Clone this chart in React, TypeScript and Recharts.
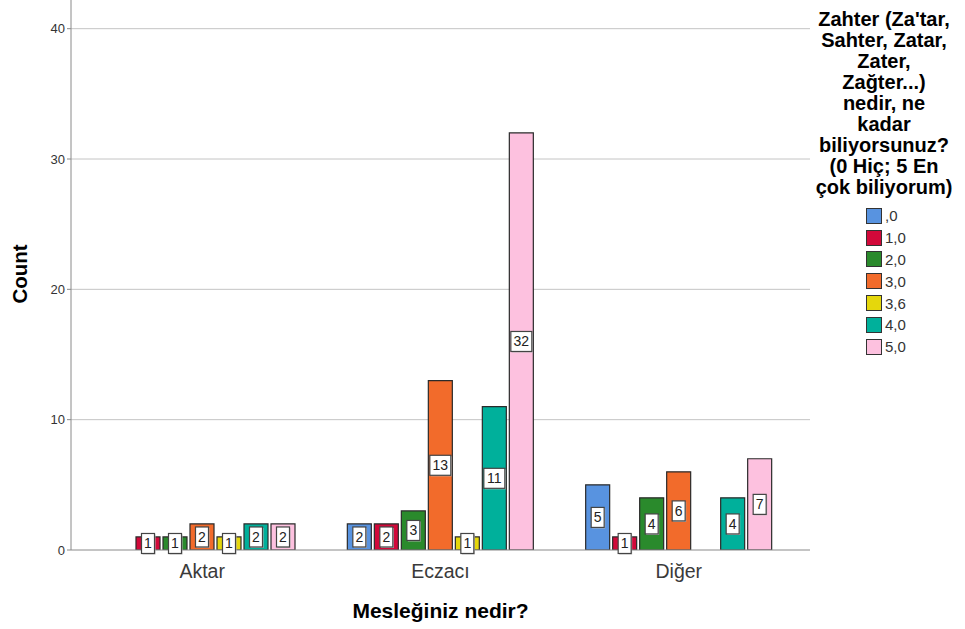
import { BarChart, Bar, XAxis, YAxis, CartesianGrid, LabelList } from 'recharts'

const categories = ['Aktar', 'Eczacı', 'Diğer']
const seriesNames = [',0', '1,0', '2,0', '3,0', '3,6', '4,0', '5,0']
const colors = ['#5893e0', '#d2093a', '#2a8a2c', '#f26b2b', '#e5d70c', '#00b09b', '#fdc1df']

// counts per category (Aktar, Eczacı, Diğer); null = no bar
const v0 = [null, 2, 5]
const v1 = [1, 2, 1]
const v2 = [1, 3, 4]
const v3 = [2, 13, 6]
const v36 = [1, 1, null]
const v4 = [2, 11, 4]
const v5 = [2, 32, 7]

const yTicks = [0, 10, 20, 30, 40]
const legendTitle = ['Zahter (Za\'tar,', 'Sahter, Zatar,', 'Zater,', 'Zağter...)', 'nedir, ne', 'kadar', 'biliyorsunuz?', '(0 Hiç; 5 En', 'çok biliyorum)']

const allSeries = [v0, v1, v2, v3, v36, v4, v5]
const data = categories.map((name, i) => {
    const row: Record<string, string | number | null> = { name }
    allSeries.forEach((s, k) => { row['s' + k] = s[i] })
    return row
})

const FONT = '"Liberation Sans", Arial, sans-serif'

const renderValueBox = (props: any) => {
    const { x, y, width, height, value } = props
    if (value === null || value === undefined) return null
    const txt = String(value)
    const w = 5 + 8 * txt.length
    const h = 20
    const cx = Number(x) + Number(width) / 2
    const cy = Number(y) + Number(height) / 2
    return (
        <g>
            <rect x={cx - w / 2 + 1} y={cy - h / 2 + 1} width={w} height={h} fill="#bdbdbd" />
            <rect x={cx - w / 2} y={cy - h / 2} width={w} height={h} fill="#ffffff" stroke="#444" strokeWidth={1.2} />
            <text x={cx} y={cy} textAnchor="middle" dominantBaseline="central" fontSize={14} fill="#222" fontFamily={FONT}>
                {txt}
            </text>
        </g>
    )
}

export default function App() {
    return (
        <div style={{ position: 'absolute', left: 0, top: 0, width: 965, height: 629, background: '#fff', fontFamily: FONT }}>
            <BarChart
                width={965}
                height={629}
                data={data}
                margin={{ top: 0, right: 155, left: 0, bottom: 0 }}
                barSize={24}
                barGap={3}
            >
                <CartesianGrid vertical={false} stroke="#c4c4c4" horizontalValues={[10, 20, 30, 40]} />
                <XAxis
                    dataKey="name"
                    height={79}
                    padding={{ left: 12, right: 12 }}
                    stroke="#8a8a8a"
                    tickLine={false}
                    tick={{ fontSize: 19.5, fill: '#3a3a3a', fontFamily: FONT }}
                    tickMargin={8}
                    label={{ value: 'Mesleğiniz nedir?', position: 'insideBottom', offset: 11, style: { fontSize: 21, fontWeight: 'bold', fill: '#000', fontFamily: FONT } }}
                />
                <YAxis
                    width={71}
                    domain={[0, 42.2]}
                    ticks={yTicks}
                    allowDataOverflow
                    stroke="#8a8a8a"
                    tickSize={4}
                    tick={{ fontSize: 13, fill: '#333', fontFamily: FONT }}
                    label={() => (
                        <text x={27} y={274} transform="rotate(-90 27 274)" textAnchor="middle" fontSize={20.5} fontWeight="bold" fontFamily={FONT} fill="#000">
                            Count
                        </text>
                    )}
                />
                {seriesNames.map((n, k) => (
                    <Bar key={n} dataKey={'s' + k} name={n} fill={colors[k]} stroke="#2a2a2a" strokeWidth={1.2} isAnimationActive={false}>
                        <LabelList dataKey={'s' + k} content={renderValueBox} />
                    </Bar>
                ))}
            </BarChart>
            <div style={{ position: 'absolute', left: 810, top: 9, width: 148, textAlign: 'center' }}>
                <div style={{ fontSize: 20, fontWeight: 'bold', lineHeight: '21px', color: '#000' }}>
                    {legendTitle.map((l) => <div key={l}>{l}</div>)}
                </div>
                <div style={{ marginTop: 7, marginLeft: 56 }}>
                    {seriesNames.map((n, k) => (
                        <div key={n} style={{ display: 'flex', alignItems: 'center', height: 21.8, textAlign: 'left' }}>
                            <span style={{ display: 'inline-block', width: 14, height: 14, background: colors[k], border: '1px solid #333', marginRight: 3 }} />
                            <span style={{ fontSize: 15, color: '#333' }}>{n}</span>
                        </div>
                    ))}
                </div>
            </div>
        </div>
    )
}
